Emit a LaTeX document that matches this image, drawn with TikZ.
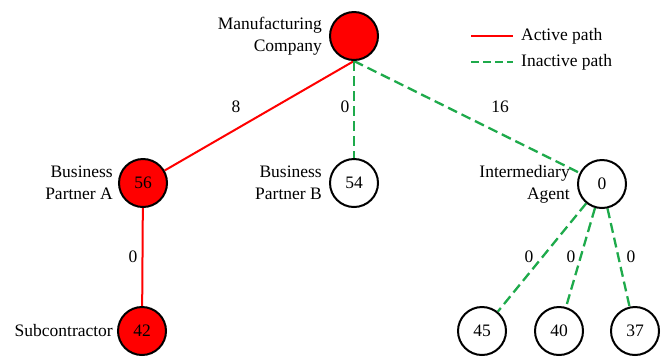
\documentclass[tikz,border=0pt]{standalone}
\usepackage{fontspec}
\setmainfont{Liberation Serif}
\usetikzlibrary{backgrounds}
\definecolor{activered}{RGB}{255,0,0}
\definecolor{inactivegreen}{RGB}{30,170,75}
\begin{document}
\begin{tikzpicture}[x=1pt,y=-1pt,
  every node/.style={font=\fontsize{17.5}{22}\selectfont},
  party/.style={circle, draw=black, line width=2pt, minimum size=48pt, inner sep=0pt},
  activenode/.style={party, fill=activered},
  idlenode/.style={party, fill=white},
  namelbl/.style={align=right, inner sep=0pt, anchor=east},
  weight/.style={inner sep=0pt},
  active/.style={draw=activered, line width=2pt},
  inactive/.style={draw=inactivegreen, line width=2.3pt, dash pattern=on 10pt off 5pt},
]
\useasboundingbox (0,0) rectangle (668,360);

% parties
\node[activenode] (mfg)   at (354,36)  {};
\node[activenode] (bpa)   at (143,183) {56};
\node[idlenode]   (bpb)   at (354,183) {54};
\node[idlenode]   (agent) at (602,184) {0};
\node[activenode] (sub)   at (142,331) {42};
\node[idlenode]   (c45)   at (482,331) {45};
\node[idlenode]   (c40)   at (559,331) {40};
\node[idlenode]   (c37)   at (635,331) {37};

% names
\node[namelbl] (mfglbl)   at ([xshift=-7pt]mfg.west)   {Manufacturing\\Company};
\node[namelbl] (bpalbl)   at ([xshift=-5pt]bpa.west)   {Business\\Partner A};
\node[namelbl] (bpblbl)   at ([xshift=-7pt]bpb.west)   {Business\\Partner B};
\node[namelbl] (agentlbl) at ([xshift=-7pt]agent.west) {Intermediary\\Agent};
\node[namelbl] (sublbl)   at ([xshift=-4pt]sub.west)   {Subcontractor};

% links
\begin{scope}[on background layer]
\draw[active]   (mfg.south) -- (bpa);
\draw[inactive] (mfg.south) -- (bpb);
\draw[inactive] (mfg.south) -- (agent);
\draw[active]   (bpa) -- (sub);
\draw[inactive] (agent) -- (c45);
\draw[inactive] (agent) -- (c40);
\draw[inactive] (agent) -- (c37);
\end{scope}

% link weights
\node[weight] (w1) at (236,107) {8};
\node[weight] (w2) at (345,107) {0};
\node[weight] (w3) at (500,107) {16};
\node[weight] (w4) at (133,257) {0};
\node[weight] (w5) at (529,257) {0};
\node[weight] (w6) at (571,257) {0};
\node[weight] (w7) at (631,257) {0};

% legend
\coordinate (ka1) at (471,36);
\coordinate (ka2) at (513,36);
\coordinate (ki1) at (471,62);
\coordinate (ki2) at (513,62);
\draw[active]   (ka1) -- (ka2);
\draw[inactive, dash pattern=on 8pt off 4pt] (ki1) -- (ki2);
\node[anchor=west, inner sep=0pt] (katext) at (521,36) {Active path};
\node[anchor=west, inner sep=0pt] (kitext) at (521,62) {Inactive path};
\end{tikzpicture}
\end{document}
